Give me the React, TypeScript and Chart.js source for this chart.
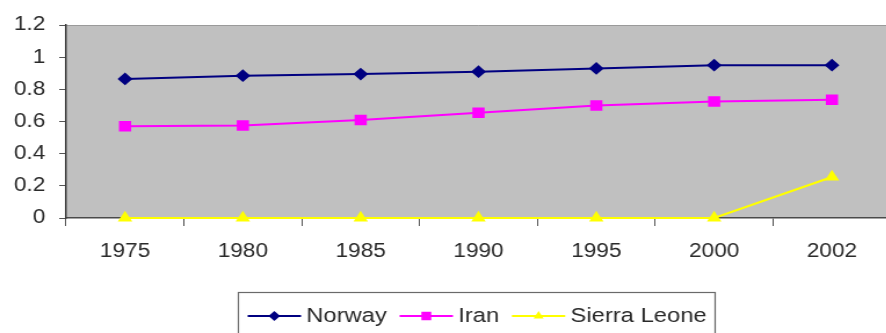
import { useEffect, useRef } from "react";
import { Chart, registerables } from "chart.js";

Chart.register(...registerables);

// Human development index by year
const years = ["1975", "1980", "1985", "1990", "1995", "2000", "2002"];
const norway = [0.865, 0.885, 0.895, 0.91, 0.93, 0.95, 0.95];
const iran = [0.57, 0.575, 0.61, 0.655, 0.7, 0.725, 0.735];
const sierraLeone = [0, 0, 0, 0, 0, 0, 0.255];
const seriesNames = ["Norway", "Iran", "Sierra Leone"];

const yMin = 0;
const yMax = 1.2;
const yStep = 0.2;

// the drawing is stretched sideways by this factor through CSS
const STRETCH = 1.16;
const FONT = "'Liberation Sans', Arial, sans-serif";

type Marker = "rectRot" | "rect" | "triangle";

function drawMarker(ctx: CanvasRenderingContext2D, style: Marker, x: number, y: number, r: number) {
  ctx.beginPath();
  if (style === "rectRot") {
    ctx.moveTo(x, y - r);
    ctx.lineTo(x + r, y);
    ctx.lineTo(x, y + r);
    ctx.lineTo(x - r, y);
  } else if (style === "rect") {
    const s = Math.SQRT1_2 * r;
    ctx.rect(x - s, y - s, 2 * s, 2 * s);
  } else {
    ctx.moveTo(x, y - r);
    ctx.lineTo(x + r * 0.866, y + r * 0.5);
    ctx.lineTo(x - r * 0.866, y + r * 0.5);
  }
  ctx.closePath();
  ctx.fill();
}

const plotBackground = {
  id: "plotBackground",
  beforeDraw(chart: any) {
    const { ctx, chartArea } = chart;
    ctx.save();
    ctx.fillStyle = "#c0c0c0";
    ctx.fillRect(chartArea.left, chartArea.top, chartArea.right - chartArea.left, chartArea.bottom - chartArea.top);
    ctx.strokeStyle = "#9a9a9a";
    ctx.lineWidth = 1;
    ctx.beginPath();
    ctx.moveTo(chartArea.left, chartArea.top + 0.5);
    ctx.lineTo(chartArea.right, chartArea.top + 0.5);
    ctx.stroke();
    ctx.restore();
  },
};

const boxedLegend = {
  id: "boxedLegend",
  afterDraw(chart: any) {
    const { ctx } = chart;
    const boxLeft = 205;
    const boxTop = 292;
    const boxRight = 616;
    const rowY = 316;
    ctx.save();
    ctx.fillStyle = "#ffffff";
    ctx.fillRect(boxLeft, boxTop, boxRight - boxLeft, 60);
    ctx.strokeStyle = "#6a6a6a";
    ctx.lineWidth = 1.2;
    ctx.strokeRect(boxLeft + 0.5, boxTop + 0.5, boxRight - boxLeft, 60);
    ctx.font = `20.5px ${FONT}`;
    ctx.textBaseline = "alphabetic";
    let x = boxLeft + 8.5;
    chart.data.datasets.forEach((ds: any) => {
      const sample = 46;
      ctx.strokeStyle = ds.borderColor;
      ctx.lineWidth = 2;
      ctx.beginPath();
      ctx.moveTo(x, rowY);
      ctx.lineTo(x + sample, rowY);
      ctx.stroke();
      ctx.fillStyle = ds.pointBackgroundColor;
      drawMarker(ctx, ds.pointStyle, x + sample / 2, rowY, ds.pointRadius);
      const tx = x + sample + 4.5;
      ctx.fillStyle = "#2a2a2a";
      ctx.fillText(ds.label, tx, rowY + 6);
      x = tx + ctx.measureText(ds.label).width + 11;
    });
    ctx.restore();
  },
};

export default function App() {
  const canvasRef = useRef<HTMLCanvasElement | null>(null);

  useEffect(() => {
    if (!canvasRef.current) return;
    const tickFont = { family: FONT, size: 19.5 };
    const chart = new Chart(canvasRef.current, {
      type: "line",
      data: {
        labels: years,
        datasets: [
          {
            label: seriesNames[0],
            data: norway,
            borderColor: "#000080",
            backgroundColor: "#000080",
            pointBackgroundColor: "#000080",
            pointBorderColor: "#000080",
            pointStyle: "rectRot",
            pointRadius: 5,
            borderWidth: 2,
            clip: false,
          },
          {
            label: seriesNames[1],
            data: iran,
            borderColor: "#ff00ff",
            backgroundColor: "#ff00ff",
            pointBackgroundColor: "#ff00ff",
            pointBorderColor: "#ff00ff",
            pointStyle: "rect",
            pointRadius: 6,
            borderWidth: 2,
            clip: false,
          },
          {
            label: seriesNames[2],
            data: sierraLeone,
            borderColor: "#ffff00",
            backgroundColor: "#ffff00",
            pointBackgroundColor: "#ffff00",
            pointBorderColor: "#ffff00",
            pointStyle: "triangle",
            pointRadius: 5,
            borderWidth: 2.2,
            clip: false,
          },
        ],
      },
      options: {
        animation: false,
        responsive: false,
        events: [],
        layout: { padding: { top: 25, right: 5, left: 0, bottom: 0 } },
        plugins: {
          legend: { display: false },
          tooltip: { enabled: false },
        },
        scales: {
          x: {
            offset: true,
            grid: {
              offset: true,
              drawOnChartArea: false,
              tickLength: 8,
              color: "#555555",
            },
            border: { color: "#4a4a4a", width: 1.5 },
            ticks: {
              font: tickFont,
              color: "#2a2a2a",
              padding: 14,
              maxRotation: 0,
              autoSkip: false,
            },
            afterFit(scale: any) {
              scale.height = 115;
            },
          },
          y: {
            min: yMin,
            max: yMax,
            grid: {
              drawOnChartArea: false,
              tickLength: 6,
              color: "#555555",
            },
            border: { color: "#3a3a3a", width: 1.5 },
            ticks: {
              stepSize: yStep,
              font: tickFont,
              color: "#2a2a2a",
              padding: 12,
              callback: (value: any) => String(Number(Number(value).toFixed(1))),
            },
            afterFit(scale: any) {
              scale.width = 57;
            },
          },
        },
      },
      plugins: [plotBackground, boxedLegend],
    });
    return () => chart.destroy();
  }, []);

  return (
    <div
      style={{
        position: "fixed",
        left: 0,
        top: 0,
        width: 886,
        height: 333,
        overflow: "hidden",
        background: "#ffffff",
      }}
    >
      <canvas
        ref={canvasRef}
        width={776}
        height={333}
        style={{
          display: "block",
          width: 776,
          height: 333,
          transform: `scaleX(${STRETCH})`,
          transformOrigin: "0 0",
        }}
      />
    </div>
  );
}
